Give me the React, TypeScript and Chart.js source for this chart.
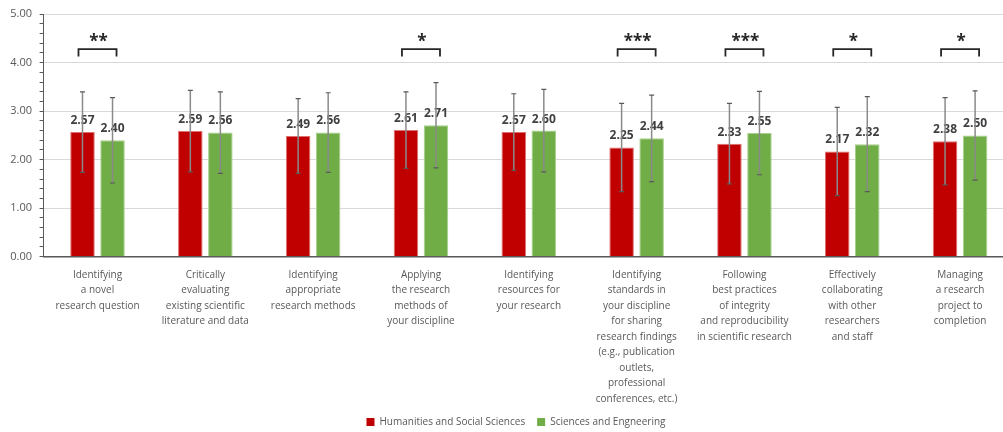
import React, { useEffect, useRef } from "react";
import { Chart, registerables } from "chart.js";
Chart.register(...registerables);

const categories: string[][] = [
  ["Identifying", "a novel", "research question"],
  ["Critically", "evaluating", "existing scientific", "literature and data"],
  ["Identifying", "appropriate", "research methods"],
  ["Applying", "the research", "methods of", "your discipline"],
  ["Identifying", "resources for", "your research"],
  ["Identifying", "standards in", "your discipline", "for sharing", "research findings", "(e.g., publication", "outlets,", "professional", "conferences, etc.)"],
  ["Following", "best practices", "of integrity", "and reproducibility", "in scientific research"],
  ["Effectively", "collaborating", "with other", "researchers", "and staff"],
  ["Managing", "a research", "project to", "completion"],
];
const seriesNames = ["Humanities and Social Sciences", "Sciences and Engneering"];
const hssMeans = [2.57, 2.59, 2.49, 2.61, 2.57, 2.25, 2.33, 2.17, 2.38];
const seMeans = [2.4, 2.56, 2.56, 2.71, 2.6, 2.44, 2.55, 2.32, 2.5];
const hssSD = [0.83, 0.84, 0.77, 0.79, 0.79, 0.91, 0.83, 0.91, 0.9];
const seSD = [0.88, 0.84, 0.82, 0.88, 0.85, 0.89, 0.86, 0.98, 0.92];
const significance = ["**", "", "", "*", "", "***", "***", "*", "*"];
const bracketTop = 4.28;
const bracketLeg = 4.13;

const FONT = "'Open Sans', sans-serif";
const RED = "#C00000";
const GREEN = "#70AD47";
const RED_EDGE = "#E07070";
const GREEN_EDGE = "#A6CF8B";

const isMajor = (v: number) => Math.abs(v - Math.round(v)) < 1e-6;

const overlayPlugin = {
  id: "overlay",
  afterDatasetsDraw(chart: any) {
    const { ctx } = chart;
    const yScale = chart.scales.y;
    const sds = [hssSD, seSD];
    const metas = [chart.getDatasetMeta(0), chart.getDatasetMeta(1)];
    ctx.save();
    // value labels
    ctx.font = `bold 12px ${FONT}`;
    ctx.fillStyle = "#404040";
    ctx.textAlign = "center";
    ctx.textBaseline = "middle";
    metas.forEach((meta: any, di: number) => {
      meta.data.forEach((bar: any, j: number) => {
        const v = chart.data.datasets[di].data[j];
        ctx.fillText(v.toFixed(2), bar.x, bar.y - 11.5);
      });
    });
    // error bars
    metas.forEach((meta: any, di: number) => {
      meta.data.forEach((bar: any, j: number) => {
        const v = chart.data.datasets[di].data[j];
        const sd = sds[di][j];
        const yt = yScale.getPixelForValue(v + sd);
        const yb = yScale.getPixelForValue(v - sd);
        ctx.strokeStyle = "#8a8a8a";
        ctx.lineWidth = 1.5;
        ctx.beginPath();
        ctx.moveTo(bar.x, yt);
        ctx.lineTo(bar.x, yb);
        ctx.stroke();
        ctx.strokeStyle = "#595959";
        ctx.lineWidth = 1.2;
        ctx.beginPath();
        ctx.moveTo(bar.x - 2.5, yt);
        ctx.lineTo(bar.x + 2.5, yt);
        ctx.moveTo(bar.x - 2.5, yb);
        ctx.lineTo(bar.x + 2.5, yb);
        ctx.stroke();
      });
    });
    // significance brackets
    significance.forEach((s, j) => {
      if (!s) return;
      const x0 = metas[0].data[j].x;
      const x1 = metas[1].data[j].x;
      const mid = (x0 + x1) / 2;
      const half = (x1 - x0) / 2 + 4;
      const yt = yScale.getPixelForValue(bracketTop);
      const yl = yScale.getPixelForValue(bracketLeg);
      ctx.strokeStyle = "#262626";
      ctx.lineWidth = 1.8;
      ctx.beginPath();
      ctx.moveTo(mid - half, yl);
      ctx.lineTo(mid - half, yt);
      ctx.lineTo(mid + half, yt);
      ctx.lineTo(mid + half, yl);
      ctx.stroke();
      ctx.font = `bold 17px ${FONT}`;
      ctx.fillStyle = "#262626";
      ctx.textAlign = "center";
      ctx.textBaseline = "middle";
      ctx.fillText(s, mid + 1, yt - 6.5);
    });
    ctx.restore();
  },
};

export default function App() {
  const ref = useRef<HTMLCanvasElement | null>(null);
  useEffect(() => {
    if (!ref.current) return;
    const chart = new Chart(ref.current, {
      type: "bar",
      data: {
        labels: categories,
        datasets: [
          { label: seriesNames[0], data: hssMeans, backgroundColor: RED, borderColor: RED_EDGE, borderWidth: 1, categoryPercentage: 0.557, barPercentage: 0.817, yAxisID: "y" },
          { label: seriesNames[1], data: seMeans, backgroundColor: GREEN, borderColor: GREEN_EDGE, borderWidth: 1, categoryPercentage: 0.557, barPercentage: 0.817, yAxisID: "y" },
        ],
      },
      options: {
        responsive: false,
        animation: false,
        layout: { padding: { left: 0, top: 5, right: 0, bottom: 0 } },
        plugins: {
          legend: {
            position: "bottom",
            labels: {
              boxWidth: 8,
              boxHeight: 8,
              padding: 12,
              color: "#595959",
              font: { family: FONT, size: 10 },
              generateLabels: (chart: any) =>
                chart.data.datasets.map((ds: any, i: number) => ({
                  text: ds.label,
                  fillStyle: ds.backgroundColor,
                  strokeStyle: ds.backgroundColor,
                  lineWidth: 0,
                  fontColor: "#595959",
                  hidden: false,
                  datasetIndex: i,
                })),
            },
          },
          tooltip: { enabled: false },
        },
        scales: {
          x: {
            grid: { display: true, color: "rgba(0,0,0,0)", drawTicks: false },
            border: { display: true, color: "#595959", width: 1.5 },
            ticks: {
              color: "#595959",
              font: { family: FONT, size: 10, lineHeight: 1.55 },
              padding: 10.5,
              maxRotation: 0,
              autoSkip: false,
            },
            afterFit: (scale: any) => {
              scale.height = 148.3;
            },
          },
          y: {
            min: 0,
            max: 5,
            grid: {
              color: (c: any) => (c.tick && isMajor(c.tick.value) ? "#d9d9d9" : "rgba(0,0,0,0)"),
              tickColor: "#595959",
              tickLength: 4,
              lineWidth: 1,
            },
            border: { display: true, color: "#595959", width: 1 },
            ticks: {
              stepSize: 0.2,
              color: "#595959",
              font: { family: FONT, size: 11 },
              padding: 7.6,
              autoSkip: false,
              callback: (v: any) => (isMajor(Number(v)) ? Number(v).toFixed(2) : ""),
            },
            afterFit: (scale: any) => {
              scale.width = 43.6;
            },
          },
          yRight: {
            type: "linear",
            position: "right",
            display: true,
            grid: { display: false, drawOnChartArea: false },
            border: { display: false },
            ticks: { display: false },
            afterFit: (scale: any) => {
              scale.width = 18;
            },
          },
        },
      },
      plugins: [overlayPlugin],
    });
    return () => chart.destroy();
  }, []);
  return (
    <div style={{ position: "absolute", left: 0, top: 0, width: 1003, height: 432, overflow: "hidden", background: "#fff" }}>
      <canvas ref={ref} width={1032} height={437} style={{ display: "block" }} />
    </div>
  );
}
